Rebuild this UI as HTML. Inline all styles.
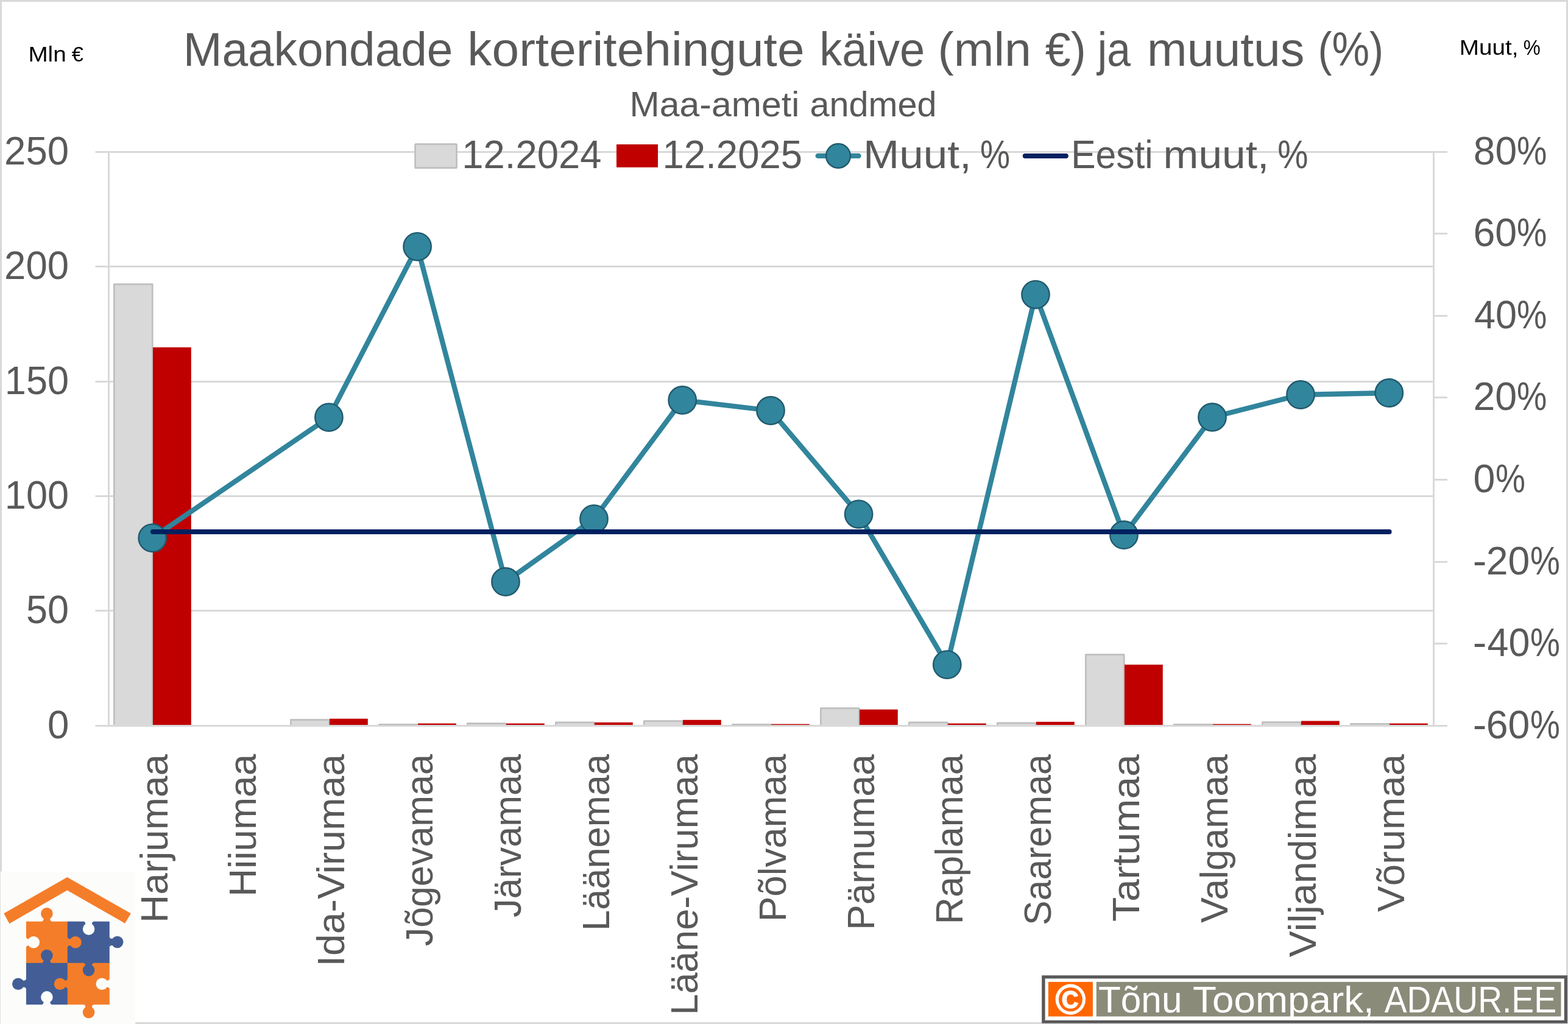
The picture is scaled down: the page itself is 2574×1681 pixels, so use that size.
<!DOCTYPE html>
<html lang="et"><head><meta charset="utf-8"><title>Maakondade korteritehingute käive (mln €) ja muutus (%)</title>
<style>html,body{margin:0;padding:0;background:#fff}body{width:2574px;height:1681px;overflow:hidden}svg{display:block}text{font-family:"Liberation Sans",sans-serif}</style>
</head><body>
<svg width="2574" height="1681" viewBox="0 0 2574 1681" role="img" aria-label="Maakondade korteritehingute käive (mln €) ja muutus (%)">
<rect x="0" y="0" width="2574" height="1681" fill="#fff"/>
<rect x="1.5" y="1.5" width="2571" height="1678" fill="none" stroke="#D9D9D9" stroke-width="3"/>
<g stroke="#D9D9D9" stroke-width="3" fill="none">
<line x1="156.5" y1="249.50" x2="2353.5" y2="249.50"/>
<line x1="156.5" y1="437.50" x2="2353.5" y2="437.50"/>
<line x1="156.5" y1="626.50" x2="2353.5" y2="626.50"/>
<line x1="156.5" y1="814.50" x2="2353.5" y2="814.50"/>
<line x1="156.5" y1="1002.50" x2="2353.5" y2="1002.50"/>
<line x1="156.5" y1="1191.50" x2="2353.5" y2="1191.50"/>
<line x1="2353.5" y1="249.50" x2="2376" y2="249.50"/>
<line x1="2353.5" y1="383.50" x2="2376" y2="383.50"/>
<line x1="2353.5" y1="518.50" x2="2376" y2="518.50"/>
<line x1="2353.5" y1="652.50" x2="2376" y2="652.50"/>
<line x1="2353.5" y1="787.50" x2="2376" y2="787.50"/>
<line x1="2353.5" y1="922.50" x2="2376" y2="922.50"/>
<line x1="2353.5" y1="1056.50" x2="2376" y2="1056.50"/>
<line x1="2353.5" y1="1191.50" x2="2376" y2="1191.50"/>
<line x1="178.5" y1="248.0" x2="178.5" y2="1193.0"/>
<line x1="2353.5" y1="248.0" x2="2353.5" y2="1193.0"/>
</g>
<g>
<path d="M187.35,1190.0 L187.35,466.65 L250.25,466.65 L250.25,1190.0" fill="#D9D9D9" stroke="#BFBFBF" stroke-width="2.7" stroke-linejoin="round"/>
<rect x="251.00" y="570.20" width="62.8" height="619.80" fill="#C00000"/>
<path d="M477.35,1190.0 L477.35,1181.55 L540.25,1181.55 L540.25,1190.0" fill="#D9D9D9" stroke="#BFBFBF" stroke-width="2.7" stroke-linejoin="round"/>
<rect x="541.00" y="1179.80" width="62.8" height="10.20" fill="#C00000"/>
<path d="M622.35,1190.0 L622.35,1189.25 L685.25,1189.25 L685.25,1190.0" fill="#D9D9D9" stroke="#BFBFBF" stroke-width="2.7" stroke-linejoin="round"/>
<rect x="686.00" y="1187.60" width="62.8" height="2.40" fill="#C00000"/>
<path d="M767.35,1190.0 L767.35,1187.55 L830.25,1187.55 L830.25,1190.0" fill="#D9D9D9" stroke="#BFBFBF" stroke-width="2.7" stroke-linejoin="round"/>
<rect x="831.00" y="1187.60" width="62.8" height="2.40" fill="#C00000"/>
<path d="M912.35,1190.0 L912.35,1185.85 L975.25,1185.85 L975.25,1190.0" fill="#D9D9D9" stroke="#BFBFBF" stroke-width="2.7" stroke-linejoin="round"/>
<rect x="976.00" y="1185.90" width="62.8" height="4.10" fill="#C00000"/>
<path d="M1057.35,1190.0 L1057.35,1183.55 L1120.25,1183.55 L1120.25,1190.0" fill="#D9D9D9" stroke="#BFBFBF" stroke-width="2.7" stroke-linejoin="round"/>
<rect x="1121.00" y="1181.80" width="62.8" height="8.20" fill="#C00000"/>
<path d="M1202.35,1190.0 L1202.35,1189.25 L1265.25,1189.25 L1265.25,1190.0" fill="#D9D9D9" stroke="#BFBFBF" stroke-width="2.7" stroke-linejoin="round"/>
<rect x="1266.00" y="1188.60" width="62.8" height="1.40" fill="#C00000"/>
<path d="M1347.35,1190.0 L1347.35,1162.65 L1410.25,1162.65 L1410.25,1190.0" fill="#D9D9D9" stroke="#BFBFBF" stroke-width="2.7" stroke-linejoin="round"/>
<rect x="1411.00" y="1164.70" width="62.8" height="25.30" fill="#C00000"/>
<path d="M1492.35,1190.0 L1492.35,1185.85 L1555.25,1185.85 L1555.25,1190.0" fill="#D9D9D9" stroke="#BFBFBF" stroke-width="2.7" stroke-linejoin="round"/>
<rect x="1556.00" y="1187.60" width="62.8" height="2.40" fill="#C00000"/>
<path d="M1637.35,1190.0 L1637.35,1186.85 L1700.25,1186.85 L1700.25,1190.0" fill="#D9D9D9" stroke="#BFBFBF" stroke-width="2.7" stroke-linejoin="round"/>
<rect x="1701.00" y="1184.90" width="62.8" height="5.10" fill="#C00000"/>
<path d="M1782.35,1190.0 L1782.35,1074.65 L1845.25,1074.65 L1845.25,1190.0" fill="#D9D9D9" stroke="#BFBFBF" stroke-width="2.7" stroke-linejoin="round"/>
<rect x="1846.00" y="1091.10" width="62.8" height="98.90" fill="#C00000"/>
<path d="M1927.35,1190.0 L1927.35,1189.25 L1990.25,1189.25 L1990.25,1190.0" fill="#D9D9D9" stroke="#BFBFBF" stroke-width="2.7" stroke-linejoin="round"/>
<rect x="1991.00" y="1188.60" width="62.8" height="1.40" fill="#C00000"/>
<path d="M2072.35,1190.0 L2072.35,1185.55 L2135.25,1185.55 L2135.25,1190.0" fill="#D9D9D9" stroke="#BFBFBF" stroke-width="2.7" stroke-linejoin="round"/>
<rect x="2136.00" y="1183.50" width="62.8" height="6.50" fill="#C00000"/>
<path d="M2217.35,1190.0 L2217.35,1188.25 L2280.25,1188.25 L2280.25,1190.0" fill="#D9D9D9" stroke="#BFBFBF" stroke-width="2.7" stroke-linejoin="round"/>
<rect x="2281.00" y="1187.60" width="62.8" height="2.40" fill="#C00000"/>
</g>
<polyline points="250.2,883.1 539.9,685.1 685.1,404.8 830.0,955.0 975.0,851.8 1120.2,656.9 1265.0,674.0 1409.6,844.1 1554.8,1091.1 1700.0,483.6 1845.0,878.2 1990.0,684.9 2135.0,648.0 2280.3,645.0" fill="none" stroke="#31859C" stroke-width="8.3" stroke-linejoin="round" stroke-linecap="round"/>
<g fill="#31859C" stroke="#215A6D" stroke-width="2.4">
<circle cx="250.2" cy="883.1" r="22.7"/>
<circle cx="539.9" cy="685.1" r="22.7"/>
<circle cx="685.1" cy="404.8" r="22.7"/>
<circle cx="830.0" cy="955.0" r="22.7"/>
<circle cx="975.0" cy="851.8" r="22.7"/>
<circle cx="1120.2" cy="656.9" r="22.7"/>
<circle cx="1265.0" cy="674.0" r="22.7"/>
<circle cx="1409.6" cy="844.1" r="22.7"/>
<circle cx="1554.8" cy="1091.1" r="22.7"/>
<circle cx="1700.0" cy="483.6" r="22.7"/>
<circle cx="1845.0" cy="878.2" r="22.7"/>
<circle cx="1990.0" cy="684.9" r="22.7"/>
<circle cx="2135.0" cy="648.0" r="22.7"/>
<circle cx="2280.3" cy="645.0" r="22.7"/>
</g>
<line x1="251.0" y1="873.0" x2="2280.6" y2="873.0" stroke="#002060" stroke-width="8" stroke-linecap="round"/>
<rect x="681.6" y="236.6" width="68" height="39" rx="1.2" fill="#D9D9D9" stroke="#BFBFBF" stroke-width="2.7"/>
<rect x="1012" y="237" width="68" height="37.7" fill="#C00000"/>
<line x1="1342.7" y1="255.9" x2="1409.5" y2="255.9" stroke="#31859C" stroke-width="8.3" stroke-linecap="round"/>
<circle cx="1376" cy="255.9" r="19.9" fill="#31859C" stroke="#215A6D" stroke-width="2.4"/>
<line x1="1682.8" y1="255.9" x2="1749.8" y2="255.9" stroke="#002060" stroke-width="8" stroke-linecap="round"/>
<g>
<rect x="0.8" y="1430.7" width="221.4" height="250.3" fill="#FCFDFB"/>
<polygon points="6.3,1499.5 110.3,1440.1 214.8,1499.5 205.2,1515.7 110.3,1461.5 15.4,1516.3" fill="#F47D2A"/>
<rect x="42.9" y="1512.7" width="68.2" height="68.3999999999999" fill="#F47D2A"/>
<rect x="110.8" y="1512.7" width="69.00000000000001" height="68.3999999999999" fill="#435E96"/>
<rect x="42.9" y="1580.8" width="68.2" height="68.40000000000009" fill="#435E96"/>
<rect x="110.8" y="1580.8" width="69.00000000000001" height="68.40000000000009" fill="#F47D2A"/>
<circle cx="76.9" cy="1499.8" r="9.8" fill="#F47D2A"/><path d="M71.5,1499.8 L71.5,1509.7 Q70.5,1512.4 68.4,1513.3 L85.4,1513.3 Q83.30000000000001,1512.4 82.30000000000001,1509.7 L82.30000000000001,1499.8 Z" fill="#F47D2A"/>
<circle cx="55.2" cy="1546.8" r="9.8" fill="#FCFDFB"/><path d="M55.2,1541.3999999999999 L45.9,1541.3999999999999 Q43.199999999999996,1540.3999999999999 42.3,1538.3 L42.3,1555.3 Q43.199999999999996,1553.2 45.9,1552.2 L55.2,1552.2 Z" fill="#FCFDFB"/>
<circle cx="123.9" cy="1546.8" r="9.8" fill="#F47D2A"/><path d="M123.9,1541.3999999999999 L113.8,1541.3999999999999 Q111.1,1540.3999999999999 110.2,1538.3 L110.2,1555.3 Q111.1,1553.2 113.8,1552.2 L123.9,1552.2 Z" fill="#F47D2A"/>
<circle cx="76.9" cy="1568.5" r="9.8" fill="#435E96"/><path d="M71.5,1568.5 L71.5,1577.8 Q70.5,1580.5 68.4,1581.3999999999999 L85.4,1581.3999999999999 Q83.30000000000001,1580.5 82.30000000000001,1577.8 L82.30000000000001,1568.5 Z" fill="#435E96"/>
<circle cx="145.6" cy="1525.1" r="9.8" fill="#FCFDFB"/><path d="M140.2,1525.1 L140.2,1515.7 Q139.2,1513.0 137.1,1512.1000000000001 L154.1,1512.1000000000001 Q152.0,1513.0 151.0,1515.7 L151.0,1525.1 Z" fill="#FCFDFB"/>
<circle cx="192.6" cy="1546.5" r="9.8" fill="#435E96"/><path d="M192.6,1541.1 L182.8,1541.1 Q180.10000000000002,1540.1 179.20000000000002,1538.0 L179.20000000000002,1555.0 Q180.10000000000002,1552.9 182.8,1551.9 L192.6,1551.9 Z" fill="#435E96"/>
<circle cx="145.6" cy="1592.6" r="9.8" fill="#435E96"/><path d="M140.2,1592.6 L140.2,1583.8 Q139.2,1581.1 137.1,1580.2 L154.1,1580.2 Q152.0,1581.1 151.0,1583.8 L151.0,1592.6 Z" fill="#435E96"/>
<circle cx="29.8" cy="1615.2" r="9.8" fill="#435E96"/><path d="M29.8,1609.8 L39.9,1609.8 Q42.6,1608.8 43.5,1606.7 L43.5,1623.7 Q42.6,1621.6000000000001 39.9,1620.6000000000001 L29.8,1620.6000000000001 Z" fill="#435E96"/>
<circle cx="98.6" cy="1615.2" r="9.8" fill="#F47D2A"/><path d="M98.6,1609.8 L107.8,1609.8 Q110.5,1608.8 111.39999999999999,1606.7 L111.39999999999999,1623.7 Q110.5,1621.6000000000001 107.8,1620.6000000000001 L98.6,1620.6000000000001 Z" fill="#F47D2A"/>
<circle cx="76.9" cy="1636.9" r="9.8" fill="#FCFDFB"/><path d="M71.5,1636.9 L71.5,1646.2 Q70.5,1648.9 68.4,1649.8 L85.4,1649.8 Q83.30000000000001,1648.9 82.30000000000001,1646.2 L82.30000000000001,1636.9 Z" fill="#FCFDFB"/>
<circle cx="167.3" cy="1615.2" r="9.8" fill="#FCFDFB"/><path d="M167.3,1609.8 L176.8,1609.8 Q179.5,1608.8 180.4,1606.7 L180.4,1623.7 Q179.5,1621.6000000000001 176.8,1620.6000000000001 L167.3,1620.6000000000001 Z" fill="#FCFDFB"/>
<circle cx="145.6" cy="1661.8" r="9.8" fill="#F47D2A"/><path d="M140.2,1661.8 L140.2,1652.2 Q139.2,1649.5 137.1,1648.6000000000001 L154.1,1648.6000000000001 Q152.0,1649.5 151.0,1652.2 L151.0,1661.8 Z" fill="#F47D2A"/>
</g>
<g>
<rect x="1710.2" y="1601.2" width="862.8" height="78.6" fill="#595959"/>
<rect x="1715.6" y="1606.4" width="852.2" height="68.6" fill="#fff"/>
<rect x="1720.9" y="1611.9" width="73" height="56.7" fill="#FF6600"/>
<rect x="1799.8" y="1611.9" width="762.7" height="56.7" fill="#8B8B7A"/>
</g>
<text y="107.6" font-size="77.5" fill="#595959"><tspan x="300.67" textLength="442.76" lengthAdjust="spacingAndGlyphs">Maakondade</tspan> <tspan x="767.38" textLength="553.18" lengthAdjust="spacingAndGlyphs">korteritehingute</tspan> <tspan x="1345.18" textLength="173.02" lengthAdjust="spacingAndGlyphs">käive</tspan> <tspan x="1539.57" textLength="153.31" lengthAdjust="spacingAndGlyphs">(mln</tspan> <tspan x="1715.85" textLength="66.88" lengthAdjust="spacingAndGlyphs">€)</tspan> <tspan x="1801.74" textLength="54.15" lengthAdjust="spacingAndGlyphs">ja</tspan> <tspan x="1883.08" textLength="258.21" lengthAdjust="spacingAndGlyphs">muutus</tspan> <tspan x="2163.44" textLength="107.73" lengthAdjust="spacingAndGlyphs">(%)</tspan></text>
<text y="190.5" font-size="57.5" fill="#595959"><tspan x="1033.48" textLength="278.77" lengthAdjust="spacingAndGlyphs">Maa-ameti</tspan> <tspan x="1329.41" textLength="208.27" lengthAdjust="spacingAndGlyphs">andmed</tspan></text>
<text y="100.8" font-size="35.7" fill="#000"><tspan x="46.4" textLength="62.36" lengthAdjust="spacingAndGlyphs">Mln</tspan> <tspan x="117.65" textLength="19.2" lengthAdjust="spacingAndGlyphs">€</tspan></text>
<text y="90.2" font-size="35.7" fill="#000"><tspan x="2395.81" textLength="96.71" lengthAdjust="spacingAndGlyphs">Muut,</tspan> <tspan x="2500.8" textLength="27.98" lengthAdjust="spacingAndGlyphs">%</tspan></text>
<text transform="translate(758.24 276.2) scale(0.31709 0.32700)" font-size="200" fill="#595959">12.2024</text>
<text transform="translate(1087.54 276.2) scale(0.31757 0.32700)" font-size="200" fill="#595959">12.2025</text>
<text y="276.2" font-size="65" fill="#595959"><tspan x="1417.01" textLength="177.75" lengthAdjust="spacingAndGlyphs">Muut,</tspan> <tspan x="1608.97" textLength="49.12" lengthAdjust="spacingAndGlyphs">%</tspan></text>
<text y="276.2" font-size="65" fill="#595959"><tspan x="1758.16" textLength="134.57" lengthAdjust="spacingAndGlyphs">Eesti</tspan> <tspan x="1909.58" textLength="173.74" lengthAdjust="spacingAndGlyphs">muut,</tspan> <tspan x="2097.32" textLength="50.21" lengthAdjust="spacingAndGlyphs">%</tspan></text>
<text transform="translate(7.12 269.6) scale(0.31772 0.32700)" font-size="200" fill="#595959">250</text>
<text transform="translate(7.12 457.6) scale(0.31772 0.32700)" font-size="200" fill="#595959">200</text>
<text transform="translate(7.87 646.6) scale(0.31543 0.32700)" font-size="200" fill="#595959">150</text>
<text transform="translate(7.87 834.6) scale(0.31543 0.32700)" font-size="200" fill="#595959">100</text>
<text transform="translate(43.08 1022.6) scale(0.31449 0.32700)" font-size="200" fill="#595959">50</text>
<text transform="translate(77.96 1211.6) scale(0.31789 0.32700)" font-size="200" fill="#595959">0</text>
<text y="269.6" font-size="65.4" fill="#595959"><tspan x="2418.71" textLength="71.38" lengthAdjust="spacingAndGlyphs">80</tspan><tspan x="2490.06" textLength="49.34" lengthAdjust="spacingAndGlyphs">%</tspan></text>
<text y="403.6" font-size="65.4" fill="#595959"><tspan x="2418.38" textLength="71.73" lengthAdjust="spacingAndGlyphs">60</tspan><tspan x="2490.06" textLength="49.34" lengthAdjust="spacingAndGlyphs">%</tspan></text>
<text y="538.6" font-size="65.4" fill="#595959"><tspan x="2420.03" textLength="70.02" lengthAdjust="spacingAndGlyphs">40</tspan><tspan x="2490.06" textLength="49.34" lengthAdjust="spacingAndGlyphs">%</tspan></text>
<text y="672.6" font-size="65.4" fill="#595959"><tspan x="2418.38" textLength="71.73" lengthAdjust="spacingAndGlyphs">20</tspan><tspan x="2490.06" textLength="49.34" lengthAdjust="spacingAndGlyphs">%</tspan></text>
<text y="807.6" font-size="65.4" fill="#595959"><tspan x="2418.41" textLength="35.95" lengthAdjust="spacingAndGlyphs">0</tspan><tspan x="2455.07" textLength="49.02" lengthAdjust="spacingAndGlyphs">%</tspan></text>
<text y="942.6" font-size="65.4" fill="#595959"><tspan x="2417.73" textLength="22.7" lengthAdjust="spacingAndGlyphs">-</tspan><tspan x="2439.78" textLength="71.62" lengthAdjust="spacingAndGlyphs">20</tspan><tspan x="2512.07" textLength="48.91" lengthAdjust="spacingAndGlyphs">%</tspan></text>
<text y="1076.6" font-size="65.4" fill="#595959"><tspan x="2417.73" textLength="22.7" lengthAdjust="spacingAndGlyphs">-</tspan><tspan x="2441.43" textLength="69.92" lengthAdjust="spacingAndGlyphs">40</tspan><tspan x="2512.07" textLength="48.91" lengthAdjust="spacingAndGlyphs">%</tspan></text>
<text y="1211.6" font-size="65.4" fill="#595959"><tspan x="2417.73" textLength="22.7" lengthAdjust="spacingAndGlyphs">-</tspan><tspan x="2439.78" textLength="71.62" lengthAdjust="spacingAndGlyphs">60</tspan><tspan x="2512.07" textLength="48.91" lengthAdjust="spacingAndGlyphs">%</tspan></text>
<text transform="translate(275 1514.91) rotate(-90) scale(0.31939 0.31400)" font-size="200" fill="#595959">Harjumaa</text>
<text transform="translate(420 1472.11) rotate(-90) scale(0.31939 0.31400)" font-size="200" fill="#595959">Hiiumaa</text>
<text transform="translate(565 1586.78) rotate(-90) scale(0.32116 0.31400)" font-size="200" fill="#595959">Ida-Virumaa</text>
<text transform="translate(710 1553.31) rotate(-90) scale(0.30495 0.31400)" font-size="200" fill="#595959">Jõgevamaa</text>
<text transform="translate(855 1505.92) rotate(-90) scale(0.30514 0.31400)" font-size="200" fill="#595959">Järvamaa</text>
<text transform="translate(1000 1527.91) rotate(-90) scale(0.30678 0.31400)" font-size="200" fill="#595959">Läänemaa</text>
<text transform="translate(1145 1666.53) rotate(-90) scale(0.31417 0.31400)" font-size="200" fill="#595959">Lääne-Virumaa</text>
<text transform="translate(1290 1512.95) rotate(-90) scale(0.30928 0.31400)" font-size="200" fill="#595959">Põlvamaa</text>
<text transform="translate(1435 1527.01) rotate(-90) scale(0.31312 0.31400)" font-size="200" fill="#595959">Pärnumaa</text>
<text transform="translate(1580 1517.3) rotate(-90) scale(0.30625 0.31400)" font-size="200" fill="#595959">Raplamaa</text>
<text transform="translate(1725 1519.04) rotate(-90) scale(0.30449 0.31400)" font-size="200" fill="#595959">Saaremaa</text>
<text transform="translate(1870 1513.05) rotate(-90) scale(0.32979 0.31400)" font-size="200" fill="#595959">Tartumaa</text>
<text transform="translate(2015 1514.91) rotate(-90) scale(0.31254 0.31400)" font-size="200" fill="#595959">Valgamaa</text>
<text transform="translate(2160 1571.32) rotate(-90) scale(0.32362 0.31400)" font-size="200" fill="#595959">Viljandimaa</text>
<text transform="translate(2305 1496.92) rotate(-90) scale(0.31926 0.31400)" font-size="200" fill="#595959">Võrumaa</text>
<text y="1661.8" font-size="61" fill="#fff"><tspan x="1802.99" textLength="137.49" lengthAdjust="spacingAndGlyphs">Tõnu</tspan> <tspan x="1958.11" textLength="297.64" lengthAdjust="spacingAndGlyphs">Toompark,</tspan> <tspan x="2272.72" textLength="282.31" lengthAdjust="spacingAndGlyphs">ADAUR.EE</tspan></text>
<text transform="translate(1732.28 1664.2) scale(0.34043 0.34000)" font-size="200" fill="#fff" font-weight="700" stroke="#fff" stroke-width="4" stroke-linejoin="round">©</text>
</svg></body></html>
